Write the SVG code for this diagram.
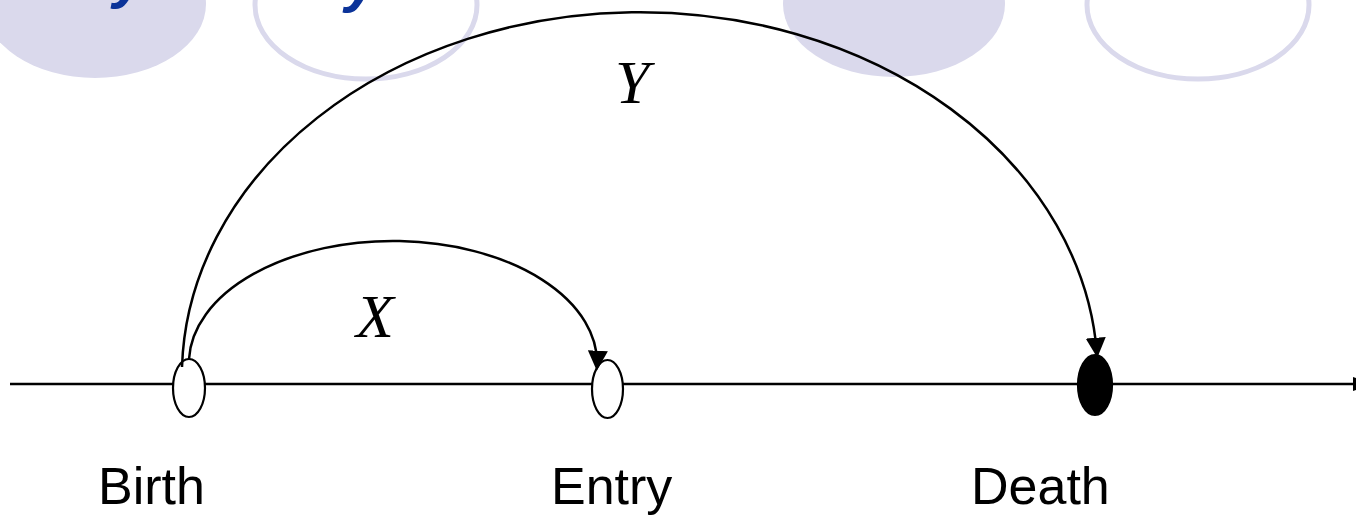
<svg xmlns="http://www.w3.org/2000/svg" width="1356" height="515" viewBox="0 0 1356 515">
  <style>
    .deco-fill { fill: #dad9ec; stroke: none; }
    .deco-ring { fill: none; stroke: #dad9ec; stroke-width: 5; }
    .title { font-family: "Liberation Sans", Arial, sans-serif; font-weight: bold; font-style: italic; font-size: 60px; fill: #0b3399; }
    .event { stroke: #000; stroke-width: 2.2; }
    .open { fill: #fff; }
    .closed { fill: #000; }
    .axis { stroke: #000; stroke-width: 2.5; fill: none; }
    .conn { stroke: #000; stroke-width: 2.5; fill: none; marker-end: url(#arrow); }
    .lbl { font-family: "Liberation Sans", Arial, sans-serif; font-size: 52px; fill: #000; }
    .var { font-family: "Liberation Serif", "Times New Roman", serif; font-style: italic; font-size: 62px; fill: #000; }
  </style>
  <defs>
    <marker id="arrow" markerUnits="userSpaceOnUse" markerWidth="20" markerHeight="20" viewBox="0 0 16 16" refX="13" refY="8" orient="auto">
      <path d="M0,0 L16,8 L0,16 Z" fill="#000"/>
    </marker>
  </defs>

  <g id="background">
    <ellipse class="deco-fill" cx="95" cy="4" rx="111" ry="74"/>
    <ellipse class="deco-ring" cx="366" cy="5" rx="111" ry="74"/>
    <ellipse class="deco-fill" cx="894" cy="4" rx="111" ry="73"/>
    <ellipse class="deco-ring" cx="1198" cy="5" rx="111" ry="74"/>
    <text class="title" x="113" y="-3">y</text>
    <text class="title" x="345" y="1">y</text>
  </g>

  <g id="axis">
    <line class="axis" x1="10" y1="384" x2="1353" y2="384"/>
    <path d="M1353,377 L1375,384 L1353,391 Z" fill="#000"/>
  </g>

  <g id="birth">
    <ellipse class="event open" cx="189" cy="388" rx="16" ry="29"/>
    <text class="lbl" x="98" y="504">Birth</text>
  </g>
  <g id="entry">
    <ellipse class="event open" cx="607.5" cy="389" rx="15.5" ry="29"/>
    <text class="lbl" x="551" y="504">Entry</text>
  </g>
  <g id="death">
    <ellipse class="event closed" cx="1095" cy="385" rx="17" ry="30"/>
    <text class="lbl" x="971" y="504">Death</text>
  </g>

  <g id="connectors">
    <path id="conn-x" class="conn" d="M189,359 A204,122 0 0 1 597,367"/>
    <path id="conn-y" class="conn" d="M182,367 A458,364 0 0 1 1097,354"/>
    <text class="var" x="356" y="337">X</text>
    <text class="var" x="615" y="103">Y</text>
  </g>
</svg>
